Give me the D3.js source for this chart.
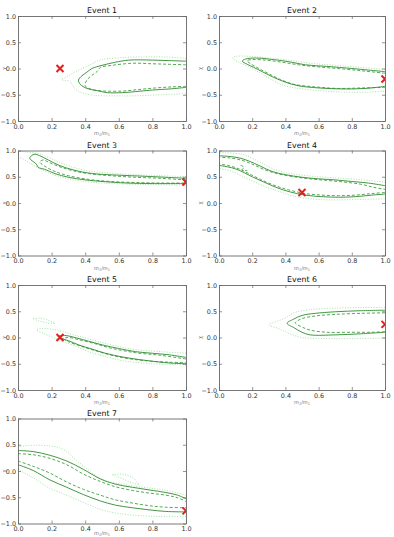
<!DOCTYPE html>
<html lang="en">
<head>
<meta charset="utf-8" />
<title>Events</title>
<script src="https://d3js.org/d3.v7.min.js"></script>
<style>
  body { margin: 0; background: #fff; }
  text { font-family: "DejaVu Sans", sans-serif; }
</style>
</head>
<body>
<script>
var titles = ["Event 1", "Event 2", "Event 3", "Event 4", "Event 5", "Event 6", "Event 7"];
var xTicks = [0, 0.2, 0.4, 0.6, 0.8, 1.0];
var yTicks = [-1, -0.5, 0, 0.5, 1];
var injQ = [0.25, 1.0, 1.0, 0.5, 0.25, 1.0, 1.0];
var injChi = [0.0, -0.2, 0.4, 0.2, 0.0, 0.25, -0.76];

// contour lines, [q, chi] pairs
var ev1Solid = [[1.0,0.14],[0.9,0.15],[0.8,0.16],[0.66,0.16],[0.58,0.12],[0.5,0.06],[0.44,0.0],[0.41,-0.07],[0.38,-0.14],[0.36,-0.22],[0.37,-0.3],[0.41,-0.38],[0.47,-0.42],[0.53,-0.46],[0.62,-0.46],[0.7,-0.44],[0.8,-0.41],[0.9,-0.39],[1.0,-0.36]];
var ev1Dashed = [[1.0,0.07],[0.9,0.08],[0.8,0.09],[0.68,0.1],[0.56,0.06],[0.49,0.02],[0.47,-0.06],[0.44,-0.13],[0.41,-0.22],[0.4,-0.33],[0.44,-0.4],[0.52,-0.43],[0.62,-0.43],[0.72,-0.4],[0.82,-0.37],[0.92,-0.35],[1.0,-0.34]];
var ev1Dotted = [[1.0,0.19],[0.88,0.22],[0.76,0.22],[0.64,0.21],[0.5,0.17],[0.46,0.12],[0.41,0.04],[0.35,-0.05],[0.3,-0.14],[0.26,-0.21],[0.31,-0.25],[0.33,-0.35],[0.37,-0.45],[0.45,-0.51],[0.58,-0.52],[0.7,-0.52],[0.85,-0.5],[1.0,-0.48]];

var ev2Solid = [[1.0,-0.06],[0.9,-0.03],[0.8,0.0],[0.65,0.04],[0.52,0.07],[0.42,0.13],[0.3,0.18],[0.22,0.2],[0.16,0.18],[0.14,0.14],[0.17,0.08],[0.21,0.02],[0.26,-0.06],[0.33,-0.17],[0.4,-0.26],[0.48,-0.33],[0.6,-0.37],[0.75,-0.39],[0.88,-0.38],[1.0,-0.34]];
var ev2Dashed = [[1.0,-0.09],[0.88,-0.05],[0.75,-0.01],[0.6,0.03],[0.48,0.07],[0.38,0.12],[0.28,0.16],[0.2,0.17],[0.17,0.15],[0.19,0.09],[0.24,0.0],[0.3,-0.1],[0.37,-0.21],[0.45,-0.3],[0.58,-0.35],[0.72,-0.38],[0.86,-0.37],[1.0,-0.36]];
var ev2Dotted = [[1.0,-0.02],[0.85,0.02],[0.7,0.06],[0.55,0.1],[0.42,0.16],[0.3,0.2],[0.2,0.23],[0.1,0.23],[0.08,0.2],[0.12,0.12],[0.18,0.03],[0.24,-0.07],[0.3,-0.18],[0.37,-0.3],[0.46,-0.37],[0.6,-0.42],[0.75,-0.45],[0.9,-0.45],[1.0,-0.43]];

var ev3Solid = [[1.0,0.47],[0.88,0.49],[0.75,0.51],[0.6,0.53],[0.48,0.55],[0.4,0.58],[0.33,0.63],[0.25,0.71],[0.18,0.82],[0.13,0.9],[0.1,0.93],[0.08,0.9],[0.07,0.85],[0.09,0.79],[0.11,0.74],[0.12,0.68],[0.16,0.64],[0.22,0.56],[0.3,0.49],[0.4,0.44],[0.5,0.41],[0.65,0.38],[0.8,0.37],[1.0,0.37]];
var ev3Dashed = [[1.0,0.44],[0.85,0.47],[0.7,0.49],[0.55,0.52],[0.42,0.56],[0.32,0.62],[0.24,0.7],[0.18,0.78],[0.15,0.82],[0.13,0.78],[0.16,0.7],[0.22,0.6],[0.3,0.52],[0.42,0.45],[0.55,0.41],[0.7,0.39],[0.85,0.38],[1.0,0.38]];
var ev3Dotted = [[1.0,0.5],[0.85,0.52],[0.7,0.54],[0.55,0.57],[0.42,0.61],[0.33,0.68],[0.25,0.77],[0.18,0.87],[0.12,0.94],[0.05,0.97],[-0.02,0.98],[-0.02,0.92],[0.03,0.84],[0.07,0.76],[0.12,0.67],[0.18,0.58],[0.25,0.5],[0.35,0.43],[0.5,0.38],[0.65,0.36],[0.8,0.35],[1.0,0.34]];

var ev4SolidUp = [[-0.01,0.9],[0.05,0.89],[0.12,0.86],[0.18,0.8],[0.25,0.7],[0.32,0.6],[0.4,0.54],[0.5,0.49],[0.6,0.46],[0.7,0.44],[0.8,0.41],[0.9,0.38],[1.0,0.33]];
var ev4SolidLow = [[-0.01,0.72],[0.05,0.69],[0.1,0.65],[0.15,0.58],[0.2,0.5],[0.27,0.4],[0.35,0.29],[0.43,0.21],[0.52,0.15],[0.62,0.12],[0.72,0.11],[0.82,0.12],[0.92,0.15],[1.0,0.17]];
var ev4DashedUp = [[-0.01,0.87],[0.06,0.86],[0.13,0.82],[0.2,0.74],[0.27,0.64],[0.35,0.56],[0.45,0.5],[0.55,0.46],[0.65,0.43],[0.75,0.4],[0.85,0.36],[0.93,0.3],[1.0,0.26]];
var ev4DashedLow = [[-0.01,0.75],[0.06,0.71],[0.12,0.65],[0.18,0.56],[0.25,0.45],[0.33,0.34],[0.42,0.25],[0.52,0.18],[0.62,0.15],[0.72,0.14],[0.82,0.15],[0.92,0.18],[1.0,0.2]];
var ev4DashedBit = [[0.13,0.72],[0.15,0.68],[0.14,0.63],[0.17,0.62]];
var ev4DottedUp = [[-0.01,0.96],[0.08,0.95],[0.15,0.92],[0.2,0.85],[0.26,0.76],[0.32,0.66],[0.4,0.58],[0.5,0.53],[0.6,0.5],[0.7,0.48],[0.8,0.46],[0.9,0.43],[1.0,0.4]];
var ev4DottedLow = [[-0.01,0.66],[0.06,0.62],[0.12,0.54],[0.2,0.42],[0.28,0.31],[0.36,0.22],[0.45,0.13],[0.55,0.08],[0.65,0.06],[0.75,0.06],[0.88,0.07],[1.0,0.08]];

var ev5Solid = [[1.0,-0.38],[0.9,-0.33],[0.8,-0.3],[0.7,-0.27],[0.6,-0.21],[0.5,-0.14],[0.42,-0.07],[0.35,-0.01],[0.3,0.03],[0.26,0.04],[0.24,0.02],[0.26,-0.02],[0.3,-0.06],[0.36,-0.14],[0.44,-0.22],[0.52,-0.3],[0.62,-0.37],[0.72,-0.42],[0.82,-0.46],[0.92,-0.49],[1.0,-0.5]];
var ev5Dashed = [[1.0,-0.41],[0.85,-0.34],[0.7,-0.29],[0.55,-0.2],[0.45,-0.11],[0.36,-0.04],[0.3,0.0],[0.27,-0.02],[0.3,-0.08],[0.38,-0.17],[0.48,-0.27],[0.6,-0.37],[0.75,-0.44],[0.9,-0.47],[1.0,-0.48]];
var ev5Dotted = [[1.0,-0.3],[0.85,-0.27],[0.7,-0.23],[0.58,-0.16],[0.48,-0.08],[0.4,-0.01],[0.32,0.06],[0.26,0.12],[0.2,0.16],[0.14,0.17],[0.11,0.14],[0.15,0.08],[0.2,0.01],[0.26,-0.07],[0.34,-0.16],[0.42,-0.27],[0.52,-0.36],[0.62,-0.44],[0.75,-0.49],[0.88,-0.51],[1.0,-0.52]];
var ev5DottedLoop = [[0.09,0.36],[0.13,0.37],[0.18,0.33],[0.22,0.27],[0.17,0.28],[0.12,0.32],[0.09,0.36]];

var ev6Solid = [[1.0,0.52],[0.85,0.51],[0.7,0.49],[0.58,0.46],[0.5,0.42],[0.45,0.35],[0.41,0.27],[0.45,0.19],[0.5,0.1],[0.55,0.05],[0.7,0.05],[0.85,0.07],[1.0,0.1]];
var ev6Dashed = [[1.0,0.47],[0.85,0.46],[0.7,0.44],[0.58,0.41],[0.5,0.36],[0.46,0.28],[0.5,0.2],[0.55,0.14],[0.65,0.1],[0.8,0.1],[0.92,0.1],[1.0,0.11]];
var ev6Dotted = [[1.0,0.57],[0.85,0.57],[0.7,0.56],[0.55,0.53],[0.45,0.47],[0.4,0.37],[0.34,0.3],[0.3,0.24],[0.36,0.17],[0.42,0.08],[0.5,0.0],[0.65,-0.02],[0.8,-0.02],[1.0,-0.01]];

var ev7SolidUp = [[0,0.39],[0.09,0.37],[0.19,0.3],[0.29,0.19],[0.39,0.03],[0.49,-0.15],[0.58,-0.25],[0.68,-0.31],[0.78,-0.36],[0.88,-0.41],[0.95,-0.46],[1.0,-0.53]];
var ev7DashedUp = [[0,0.33],[0.09,0.31],[0.19,0.24],[0.29,0.12],[0.39,-0.06],[0.49,-0.2],[0.58,-0.3],[0.68,-0.37],[0.78,-0.42],[0.88,-0.46],[0.95,-0.51],[1.0,-0.58]];
var ev7SolidLow = [[0,0.12],[0.09,0.01],[0.19,-0.17],[0.29,-0.31],[0.39,-0.45],[0.49,-0.57],[0.58,-0.65],[0.68,-0.7],[0.78,-0.74],[0.88,-0.77],[1.0,-0.78]];
var ev7DashedLow = [[0,0.19],[0.09,0.09],[0.19,-0.04],[0.29,-0.21],[0.39,-0.35],[0.49,-0.46],[0.58,-0.55],[0.68,-0.61],[0.78,-0.66],[0.88,-0.69],[1.0,-0.7]];
var ev7DottedUp = [[0,0.46],[0.09,0.49],[0.18,0.48],[0.24,0.45],[0.29,0.37],[0.33,0.25],[0.38,0.12],[0.43,-0.01],[0.48,-0.12],[0.53,-0.2],[0.62,-0.25],[0.72,-0.3],[0.82,-0.34],[0.9,-0.38],[1.0,-0.46]];
var ev7DottedLow = [[0,0.03],[0.09,-0.13],[0.19,-0.33],[0.29,-0.46],[0.39,-0.6],[0.49,-0.73],[0.58,-0.8],[0.68,-0.84],[0.78,-0.86],[0.88,-0.87],[1.0,-0.87]];
var ev7DottedLoop = [[0.56,-0.07],[0.62,-0.06],[0.68,-0.12],[0.7,-0.18],[0.72,-0.26],[0.66,-0.2],[0.6,-0.12],[0.56,-0.07]];

var contours = [
  {solid: [ev1Solid], dashed: [ev1Dashed], dotted: [ev1Dotted]},
  {solid: [ev2Solid], dashed: [ev2Dashed], dotted: [ev2Dotted]},
  {solid: [ev3Solid], dashed: [ev3Dashed], dotted: [ev3Dotted]},
  {solid: [ev4SolidUp, ev4SolidLow], dashed: [ev4DashedUp, ev4DashedLow, ev4DashedBit], dotted: [ev4DottedUp, ev4DottedLow]},
  {solid: [ev5Solid], dashed: [ev5Dashed], dotted: [ev5Dotted, ev5DottedLoop]},
  {solid: [ev6Solid], dashed: [ev6Dashed], dotted: [ev6Dotted]},
  {solid: [ev7SolidUp, ev7SolidLow], dashed: [ev7DashedUp, ev7DashedLow], dotted: [ev7DottedUp, ev7DottedLow, ev7DottedLoop]}
];

var w = 394, h = 537;
var colX = [[18, 186], [219, 385]];
var rowY = [16, 150.5, 285, 418.5];
var ph = 105;
var chiX = [6, 202];

var styles = {
  dotted: {color: "#8fdc8f", width: 0.8, dash: "1,1.6"},
  dashed: {color: "#3f9f3f", width: 0.9, dash: "3,2"},
  solid:  {color: "#2f8a2f", width: 0.9, dash: null}
};

var svg = d3.select("body").append("svg")
  .attr("width", w)
  .attr("height", h);

titles.forEach(function(title, i) {
  var c = i % 2, r = Math.floor(i / 2);
  var x0 = colX[c][0], x1 = colX[c][1];
  var y0 = rowY[r], y1 = rowY[r] + ph;

  var x = d3.scaleLinear().domain([0, 1]).range([x0, x1]);
  var y = d3.scaleLinear().domain([-1, 1]).range([y1, y0]);

  var g = svg.append("g");

  var clipId = "clip" + i;
  g.append("clipPath").attr("id", clipId)
    .append("rect")
    .attr("x", x0).attr("y", y0)
    .attr("width", x1 - x0).attr("height", y1 - y0);

  var line = d3.line()
    .x(function(d) { return x(d[0]); })
    .y(function(d) { return y(d[1]); })
    .curve(d3.curveCatmullRom.alpha(0.5));

  var plot = g.append("g").attr("clip-path", "url(#" + clipId + ")");
  ["dotted", "dashed", "solid"].forEach(function(kind) {
    var st = styles[kind];
    plot.selectAll("path." + kind)
      .data(contours[i][kind])
      .enter()
      .append("path")
      .attr("class", kind)
      .attr("d", line)
      .attr("fill", "none")
      .attr("stroke", st.color)
      .attr("stroke-width", st.width)
      .attr("stroke-dasharray", st.dash);
  });

  // injected value marker
  var mx = x(injQ[i]), my = y(injChi[i]), s = 3.5;
  plot.append("path")
    .attr("d", "M" + (mx - s) + "," + (my - s) + "L" + (mx + s) + "," + (my + s) +
               "M" + (mx - s) + "," + (my + s) + "L" + (mx + s) + "," + (my - s))
    .attr("stroke", "#e0201c")
    .attr("stroke-width", 2)
    .attr("fill", "none");

  // axes, ticks pointing inward on all four sides
  var axes = [
    d3.axisBottom(x).tickValues(xTicks),
    d3.axisTop(x).tickValues(xTicks),
    d3.axisLeft(y).tickValues(yTicks),
    d3.axisRight(y).tickValues(yTicks)
  ];
  var pos = ["translate(0," + y1 + ")", "translate(0," + y0 + ")",
             "translate(" + x0 + ",0)", "translate(" + x1 + ",0)"];
  axes.forEach(function(ax, k) {
    var a = g.append("g")
      .attr("transform", pos[k])
      .call(ax.tickSizeInner(-3).tickSizeOuter(0).tickPadding(k === 0 ? 3 : 2));
    a.select(".domain").attr("stroke", "#666").attr("stroke-width", 0.9);
    a.selectAll(".tick line").attr("stroke", "#666").attr("stroke-width", 0.7);
    if (k === 1 || k === 3) { a.selectAll("text").remove(); return; }
    a.selectAll("text")
      .attr("font-size", 6.4)
      .attr("fill", "#333")
      .attr("font-family", "DejaVu Sans, sans-serif")
      .text(function(d) { return d3.format(".1f")(d).replace("-", "\u2212"); });
  });

  g.append("text")
    .attr("x", (x0 + x1) / 2)
    .attr("y", y0 - 3)
    .attr("text-anchor", "middle")
    .attr("font-size", 7.8)
    .attr("fill", "#111")
    .text(title);

  var xl = g.append("text")
    .attr("x", (x0 + x1) / 2)
    .attr("y", y1 + (r === 3 ? 11.5 : 14))
    .attr("text-anchor", "middle")
    .attr("font-size", 5)
    .attr("fill", "#777");
  xl.append("tspan").text("m");
  xl.append("tspan").attr("font-size", 3.5).attr("dy", 1).text("2");
  xl.append("tspan").attr("dy", -1).text("/m");
  xl.append("tspan").attr("font-size", 3.5).attr("dy", 1).text("1");

  g.append("text")
    .attr("transform", "translate(" + chiX[c] + "," + ((y0 + y1) / 2) + ") rotate(-90)")
    .attr("text-anchor", "middle")
    .attr("font-size", 5.5)
    .attr("fill", "#777")
    .text("\u03c7");
});
</script>
</body>
</html>
